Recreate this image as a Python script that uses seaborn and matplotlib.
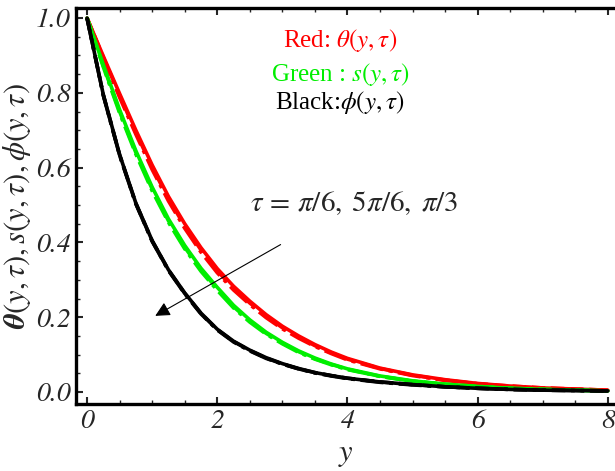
import numpy as np
import pandas as pd
import matplotlib
matplotlib.use("Agg")
import matplotlib.pyplot as plt
from matplotlib.ticker import MultipleLocator
import seaborn as sns

# ---- data ----
y_vals = [0.0, 0.25, 0.5, 0.75, 1.0, 1.25, 1.5, 1.75, 2.0, 2.25, 2.5, 2.75, 3.0,
          3.25, 3.5, 3.75, 4.0, 4.5, 5.0, 5.5, 6.0, 6.5, 7.0, 7.5, 8.0]

red_tau1 = [1.0, 0.898, 0.798, 0.700, 0.607, 0.523, 0.450, 0.386, 0.330, 0.283, 0.243, 0.207, 0.176,
            0.150, 0.127, 0.107, 0.090, 0.064, 0.046, 0.033, 0.023, 0.016, 0.011, 0.008, 0.005]
red_tau2 = [1.0, 0.895, 0.793, 0.694, 0.601, 0.517, 0.444, 0.380, 0.324, 0.278, 0.238, 0.203, 0.172,
            0.147, 0.124, 0.105, 0.088, 0.063, 0.045, 0.032, 0.022, 0.016, 0.011, 0.008, 0.005]
red_tau3 = [1.0, 0.892, 0.788, 0.689, 0.595, 0.511, 0.438, 0.374, 0.319, 0.273, 0.234, 0.199, 0.169,
            0.144, 0.122, 0.103, 0.086, 0.062, 0.044, 0.031, 0.022, 0.015, 0.010, 0.007, 0.005]

green_tau1 = [1.0, 0.875, 0.755, 0.645, 0.548, 0.463, 0.392, 0.331, 0.280, 0.232, 0.193, 0.160, 0.133,
              0.110, 0.091, 0.075, 0.062, 0.043, 0.030, 0.021, 0.015, 0.010, 0.007, 0.005, 0.003]
green_tau2 = [1.0, 0.872, 0.750, 0.640, 0.543, 0.458, 0.387, 0.327, 0.276, 0.228, 0.190, 0.157, 0.131,
              0.108, 0.089, 0.074, 0.061, 0.042, 0.029, 0.021, 0.015, 0.010, 0.007, 0.005, 0.003]
green_tau3 = [1.0, 0.869, 0.746, 0.636, 0.538, 0.454, 0.383, 0.323, 0.272, 0.225, 0.187, 0.155, 0.129,
              0.106, 0.088, 0.073, 0.060, 0.042, 0.029, 0.020, 0.014, 0.010, 0.007, 0.005, 0.003]

black_tau1 = [1.0, 0.795, 0.635, 0.505, 0.405, 0.327, 0.265, 0.211, 0.168, 0.136, 0.112, 0.092, 0.076,
              0.063, 0.052, 0.044, 0.037, 0.027, 0.020, 0.014, 0.010, 0.007, 0.005, 0.004, 0.003]
black_tau2 = [1.0, 0.794, 0.634, 0.504, 0.404, 0.326, 0.264, 0.210, 0.167, 0.135, 0.111, 0.091, 0.075,
              0.062, 0.052, 0.044, 0.037, 0.027, 0.020, 0.014, 0.010, 0.007, 0.005, 0.004, 0.003]
black_tau3 = [1.0, 0.793, 0.633, 0.503, 0.403, 0.325, 0.263, 0.209, 0.166, 0.134, 0.110, 0.090, 0.075,
              0.062, 0.051, 0.043, 0.036, 0.026, 0.019, 0.014, 0.010, 0.007, 0.005, 0.004, 0.003]

x_ticks = [0, 2, 4, 6, 8]
y_ticks = [0.0, 0.2, 0.4, 0.6, 0.8, 1.0]
x_ticklabels = ["0", "2", "4", "6", "8"]
y_ticklabels = ["0.0", "0.2", "0.4", "0.6", "0.8", "1.0"]

sns.set_style("white")
plt.rcParams["font.family"] = ["Liberation Serif", "DejaVu Serif"]
plt.rcParams["mathtext.fontset"] = "stix"

fig = plt.figure(figsize=(6.15, 4.71), dpi=100)
ax = fig.add_axes([76 / 615, 1 - 404 / 471, 1 - 76 / 615, (404 - 8) / 471])

series = [
    (red_tau1, "#ff0000", "-"), (red_tau2, "#ff0000", "--"), (red_tau3, "#ff0000", "-."),
    (green_tau1, "#00ee00", "-"), (green_tau2, "#00ee00", "--"), (green_tau3, "#00ee00", "-."),
    (black_tau1, "#000000", "-"), (black_tau2, "#000000", "--"), (black_tau3, "#000000", "-."),
]
for vals, col, ls in series:
    df = pd.DataFrame({"y": y_vals, "v": vals})
    sns.lineplot(data=df, x="y", y="v", ax=ax, color=col, linestyle=ls, lw=2.6,
                 estimator=None, sort=True)

tick_font = dict(family="STIXGeneral", style="italic", size=20)
ax.set_xlim(-0.17, 8.11)
ax.set_ylim(-0.032, 1.027)
ax.set_xticks(x_ticks)
ax.set_xticklabels(x_ticklabels, fontdict=tick_font)
ax.set_yticks(y_ticks)
ax.set_yticklabels(y_ticklabels, fontdict=tick_font)
ax.xaxis.set_minor_locator(MultipleLocator(0.5))
ax.yaxis.set_minor_locator(MultipleLocator(0.05))
ax.tick_params(which="both", direction="in", top=True, right=False, bottom=True, left=True)
ax.tick_params(which="major", length=5, width=1.5, pad=4)
ax.tick_params(which="minor", length=3, width=1.0)

for side in ["left", "bottom", "top"]:
    ax.spines[side].set_linewidth(2.4)
    ax.spines[side].set_color("black")
ax.spines["right"].set_visible(False)

ax.set_xlabel("$y$", fontsize=22, labelpad=4)
ax.set_ylabel(r"$\boldsymbol{\theta}(y,\tau),s(y,\tau),\phi(y,\tau)$", fontsize=22, labelpad=2)

ax.text(3.89, 0.941, r"Red: $\theta(y,\tau)$", color="#ff0000", fontsize=18, ha="center", va="center")
ax.text(3.89, 0.848, r"Green : $s(y,\tau)$", color="#00ee00", fontsize=18, ha="center", va="center")
ax.text(3.89, 0.773, r"Black:$\phi(y,\tau)$", color="black", fontsize=18, ha="center", va="center")

ax.text(4.1, 0.505, r"$\tau\,=\,\pi/6,\;5\pi/6,\;\pi/3$", fontsize=21, ha="center", va="center")
ax.annotate("", xy=(1.01, 0.20), xytext=(3.01, 0.398),
            arrowprops=dict(arrowstyle="-|>", color="black", lw=0.8, mutation_scale=22))

fig.savefig("out.png", dpi=100)
